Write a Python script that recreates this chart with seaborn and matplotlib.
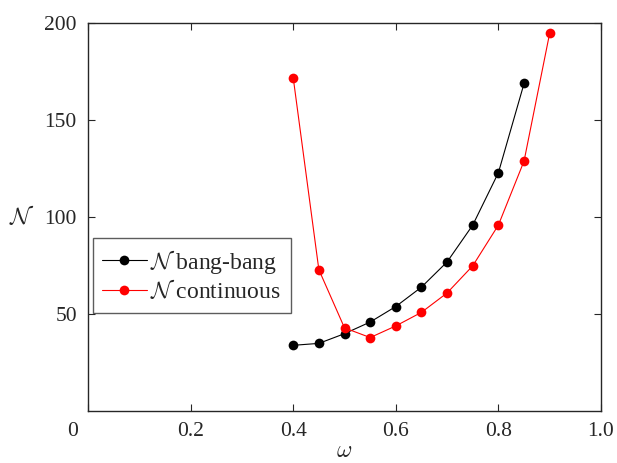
# N versus omega, bang-bang and continuous control

import numpy as np
import pandas as pd
import seaborn as sns
import matplotlib
matplotlib.use("Agg")
import matplotlib.pyplot as plt
import matplotlib.transforms as mtransforms

# data
omega_bb = [0.40, 0.45, 0.50, 0.55, 0.60, 0.65, 0.70, 0.75, 0.80, 0.85]
n_bb = [34, 35, 40, 46, 54, 64, 77, 96, 123, 169]

omega_cont = [0.40, 0.45, 0.50, 0.55, 0.60, 0.65, 0.70, 0.75, 0.80, 0.85, 0.90]
n_cont = [172, 73, 43, 38, 44, 51, 61, 75, 96, 129, 195]

x_ticks = [0, 0.2, 0.4, 0.6, 0.8, 1.0]
x_ticklabels = ["0", "0.2", "0.4", "0.6", "0.8", "1.0"]
y_ticks = [50, 100, 150, 200]

sns.set_style("ticks")
plt.rcParams["font.family"] = ["Liberation Serif", "DejaVu Serif"]
plt.rcParams["mathtext.fontset"] = "cm"
plt.rcParams["xtick.direction"] = "in"
plt.rcParams["ytick.direction"] = "in"

df_bb = pd.DataFrame({"omega": omega_bb, "N": n_bb})
df_cont = pd.DataFrame({"omega": omega_cont, "N": n_cont})

fig = plt.figure(figsize=(6.17, 4.63), dpi=100)
ax = fig.add_axes([0.1426, 0.1117, 0.8315, 0.838])

sns.lineplot(data=df_bb, x="omega", y="N", ax=ax, color="black", lw=0.8,
             marker="o", markersize=7, markeredgewidth=0,
             label=r"$\mathcal{N}$ bang-bang")
sns.lineplot(data=df_cont, x="omega", y="N", ax=ax, color="red", lw=0.8,
             marker="o", markersize=7, markeredgewidth=0,
             label=r"$\mathcal{N}$ continuous")

ax.set_xlim(0, 1)
ax.set_ylim(0, 200)
ax.set_xticks(x_ticks)
ax.set_xticklabels(x_ticklabels)
ax.set_yticks(y_ticks)
ax.tick_params(axis="both", labelsize=15.5, length=5, width=0.8,
               top=True, right=True, pad=8)
for s in ax.spines.values():
    s.set_linewidth(1.0)

# the "0" label sits left of the corner
lbl0 = ax.get_xticklabels()[0]
lbl0.set_transform(lbl0.get_transform() + mtransforms.ScaledTranslation(-15 / 100, 0, fig.dpi_scale_trans))

ax.set_xlabel(r"$\omega$", fontsize=17, labelpad=0)
ax.set_ylabel(r"$\mathcal{N}$", fontsize=17, rotation=0, va="center", ha="center")
ax.yaxis.set_label_coords(-0.128, 0.5)

leg = ax.legend(loc="upper left", bbox_to_anchor=(0.009, 0.446), borderaxespad=0,
                fontsize=17, frameon=True, fancybox=False, handlelength=1.9,
                handletextpad=0.15, labelspacing=0.15, borderpad=0.4)
leg.get_frame().set_edgecolor("#333333")
leg.get_frame().set_linewidth(1.0)

plt.savefig("out.png", dpi=100)
